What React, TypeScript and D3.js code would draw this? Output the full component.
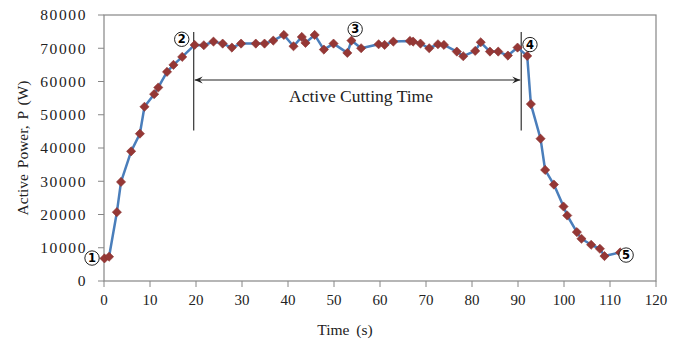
import React from "react";
import * as d3 from "d3";

// time (s) and active power (W)
const timeS = [
  0.1, 1.1, 2.8, 3.7, 5.9, 7.8, 8.8, 10.9, 11.8, 13.7, 15.1, 17.0, 19.7, 21.7,
  23.8, 25.8, 27.8, 29.8, 33.0, 34.9, 36.8, 39.1, 41.2, 43.0, 43.8, 45.8, 47.8,
  49.9, 52.9, 53.8, 55.9, 59.7, 61.0, 62.9, 66.5, 67.2, 68.8, 70.7, 72.6, 73.9,
  76.7, 78.1, 80.7, 81.9, 83.9, 85.7, 87.8, 89.9, 92.0, 92.8, 94.9, 95.9, 97.8,
  99.9, 100.7, 102.8, 103.8, 105.9, 107.8, 108.8, 112.2,
];
const powerW = [
  6800, 7300, 20700, 29800, 39000, 44300, 52400, 56200, 58200, 62900, 65000,
  67400, 71000, 70900, 72000, 71400, 70200, 71400, 71400, 71400, 72300, 74000,
  70600, 73400, 71600, 74000, 69600, 71400, 68600, 72300, 70000, 71200, 71000,
  72000, 72200, 72000, 71400, 70000, 71200, 71000, 69000, 67600, 69200, 71800,
  69000, 69000, 67800, 70200, 67700, 53200, 42800, 33400, 29000, 22400, 19700,
  14700, 12700, 10900, 9700, 7500, 8600,
];

const xTicks = [0, 10, 20, 30, 40, 50, 60, 70, 80, 90, 100, 110, 120];
const yTicks = [0, 10000, 20000, 30000, 40000, 50000, 60000, 70000, 80000];

// circled stage markers
const stageLabels = ["1", "2", "3", "4", "5"];
const stageT = [-2.6, 16.9, 54.6, 92.6, 113.5];
const stageP = [6900, 72700, 75700, 71100, 7800];

// active cutting time bracket
const cutStart = 19.5;
const cutEnd = 90.7;
const bracketTop = 74900;
const bracketBottom = 45300;
const arrowP = 60450;

const W = 684;
const H = 341;
const margin = { top: 15, right: 28, bottom: 60, left: 104 };
const font = "'Liberation Serif', 'Times New Roman', serif";

export default function App() {
  const x = d3
    .scaleLinear()
    .domain([0, 120])
    .range([margin.left, W - margin.right]);
  const y = d3
    .scaleLinear()
    .domain([0, 80000])
    .range([H - margin.bottom, margin.top]);

  const pts = timeS.map((t, i) => [t, powerW[i]] as [number, number]);
  const line = d3
    .line<[number, number]>()
    .x((d) => x(d[0]))
    .y((d) => y(d[1]));

  const x0 = x(0);
  const x1 = x(120);
  const y0 = y(0);
  const y1 = y(80000);
  const axisColor = "#868686";
  const ya = y(arrowP);
  const xs = x(cutStart);
  const xe = x(cutEnd);

  return (
    <svg
      width={W}
      height={H}
      style={{ position: "absolute", left: 0, top: 0, background: "#fff" }}
    >
      {/* plot frame */}
      <rect
        x={x0}
        y={y1}
        width={x1 - x0}
        height={y0 - y1}
        fill="none"
        stroke={axisColor}
        strokeWidth={1.2}
      />
      {/* y ticks */}
      {yTicks.map((v) => (
        <g key={"y" + v}>
          <line x1={x0 - 6} x2={x0} y1={y(v)} y2={y(v)} stroke={axisColor} />
          <text
            x={x0 - 17}
            y={y(v)}
            dy="0.35em"
            textAnchor="end"
            fontFamily={font}
            fontSize={15.5}
            letterSpacing={1.6}
            fill="#222"
          >
            {v}
          </text>
        </g>
      ))}
      {/* x ticks */}
      {xTicks.map((v) => (
        <g key={"x" + v}>
          <line x1={x(v)} x2={x(v)} y1={y0} y2={y0 + 6} stroke={axisColor} />
          <text
            x={x(v)}
            y={y0 + 19}
            dy="0.35em"
            textAnchor="middle"
            fontFamily={font}
            fontSize={15}
            fill="#222"
          >
            {v}
          </text>
        </g>
      ))}
      <text
        x={345}
        y={330}
        dy="0.35em"
        textAnchor="middle"
        fontFamily={font}
        fontSize={15.5}
        fill="#222"
        wordSpacing={3}
      >
        Time (s)
      </text>
      <text
        transform={`translate(23,${(y0 + y1) / 2}) rotate(-90)`}
        textAnchor="middle"
        dy="0.35em"
        fontFamily={font}
        fontSize={15.5}
        fill="#222"
        wordSpacing={2}
      >
        Active Power, P (W)
      </text>

      {/* bracket */}
      {[cutStart, cutEnd].map((t) => (
        <line
          key={"v" + t}
          x1={x(t)}
          x2={x(t)}
          y1={y(bracketTop)}
          y2={y(bracketBottom)}
          stroke="#333"
          strokeWidth={1.2}
        />
      ))}
      <line
        x1={xs + 1}
        x2={xe - 1}
        y1={ya}
        y2={ya}
        stroke="#222"
        strokeWidth={1.2}
      />
      <path
        d={`M${xs + 1},${ya} L${xs + 9},${ya - 3.5} L${xs + 6},${ya} L${xs + 9},${ya + 3.5} Z`}
        fill="#222"
      />
      <path
        d={`M${xe - 1},${ya} L${xe - 9},${ya - 3.5} L${xe - 6},${ya} L${xe - 9},${ya + 3.5} Z`}
        fill="#222"
      />
      <text
        x={361}
        y={102}
        textAnchor="middle"
        fontFamily={font}
        fontSize={17.5}
        fill="#222"
      >
        Active Cutting Time
      </text>

      {/* series */}
      <path
        d={line(pts) || ""}
        fill="none"
        stroke="#4A7EBB"
        strokeWidth={2.5}
        strokeLinejoin="round"
      />
      {pts.map((d, i) => {
        const cx = x(d[0]);
        const cy = y(d[1]);
        const r = 4.6;
        return (
          <path
            key={"m" + i}
            d={`M${cx},${cy - r} L${cx + r},${cy} L${cx},${cy + r} L${cx - r},${cy} Z`}
            fill="#953735"
            stroke="#8A3330"
            strokeWidth={0.6}
          />
        );
      })}

      {/* stage markers */}
      {stageLabels.map((s, i) => (
        <g key={"s" + s}>
          <circle
            cx={x(stageT[i])}
            cy={y(stageP[i])}
            r={7.2}
            fill="#fff"
            stroke="#222"
            strokeWidth={1}
          />
          <text
            x={x(stageT[i])}
            y={y(stageP[i])}
            dy="0.36em"
            textAnchor="middle"
            fontFamily="'DejaVu Sans', sans-serif"
            fontWeight="bold"
            fontSize={11.5}
            fill="#000"
          >
            {s}
          </text>
        </g>
      ))}
    </svg>
  );
}
